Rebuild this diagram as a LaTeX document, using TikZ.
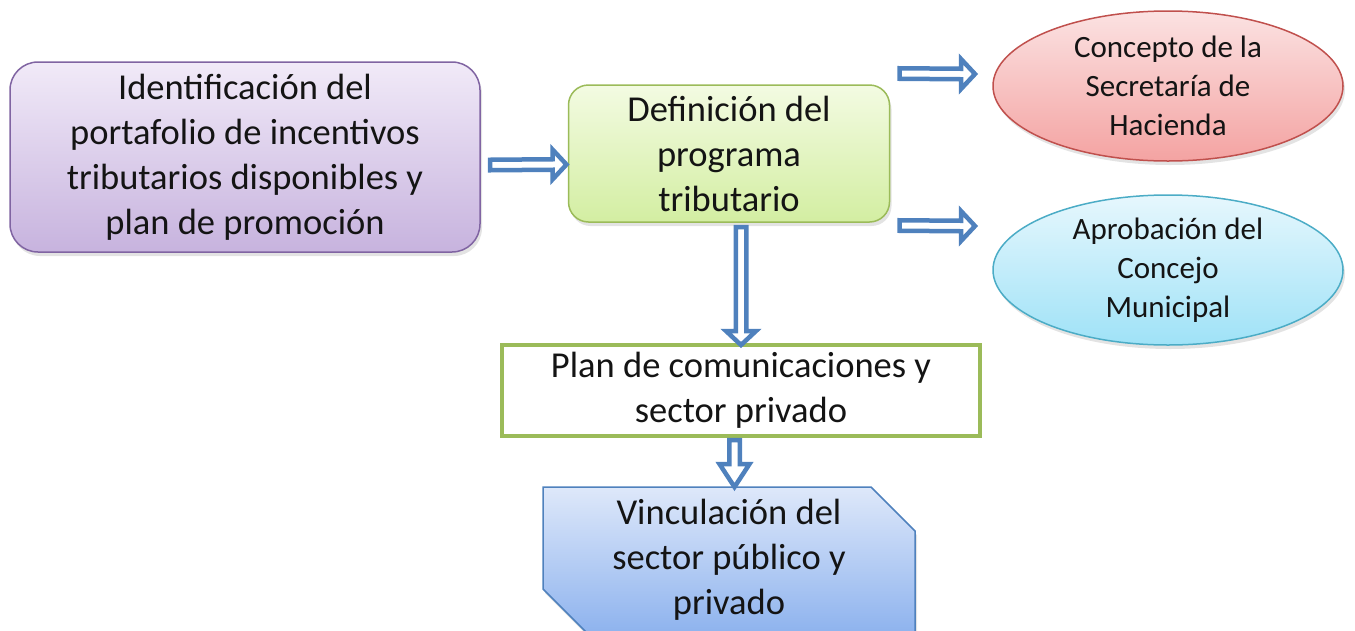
\documentclass[tikz,border=0pt]{standalone}
\usepackage{fontspec}
\setmainfont{Carlito}
\usepackage{xcolor}
\usetikzlibrary{calc, positioning, shapes.geometric, shapes.misc, shadows}
\definecolor{purpleline}{HTML}{8064A2}
\definecolor{purpletop}{HTML}{F1EAF8}
\definecolor{purplebot}{HTML}{C7B3DE}
\definecolor{greenline}{HTML}{9BBB59}
\definecolor{greentop}{HTML}{F3FBE2}
\definecolor{greenbot}{HTML}{D3EEA2}
\definecolor{redline}{HTML}{C0504D}
\definecolor{redtop}{HTML}{FBE2E2}
\definecolor{redbot}{HTML}{F4A3A2}
\definecolor{cyanline}{HTML}{4BACC6}
\definecolor{cyantop}{HTML}{E6F7FD}
\definecolor{cyanbot}{HTML}{9FE2F7}
\definecolor{blueline}{HTML}{4F81BD}
\definecolor{bluetop}{HTML}{DEE8FA}
\definecolor{bluebot}{HTML}{8EB3EE}
\begin{document}
\begin{tikzpicture}[
    x=1pt, y=-1pt,
    bigtxt/.style={font=\fontsize{36.5}{45}\selectfont, align=center, text=black!92, inner sep=0pt, outer sep=0pt},
    smalltxt/.style={font=\fontsize{31}{39}\selectfont, align=center, text=black!92, inner xsep=0pt, inner ysep=-8pt, outer sep=0pt},
    shad/.style={drop shadow={shadow xshift=2pt, shadow yshift=-4pt, opacity=0.22}},
    idbox/.style={bigtxt, shad, rectangle, rounded corners=28pt, draw=purpleline, line width=1.5pt, top color=purpletop, bottom color=purplebot},
    defbox/.style={bigtxt, shad, rectangle, rounded corners=20pt, draw=greenline, line width=1.5pt, top color=greentop, bottom color=greenbot},
    hacell/.style={smalltxt, shad, ellipse, draw=redline, line width=1.5pt, top color=redtop, bottom color=redbot, minimum width=350, minimum height=150},
    conell/.style={smalltxt, shad, ellipse, draw=cyanline, line width=1.5pt, top color=cyantop, bottom color=cyanbot, minimum width=350, minimum height=150},
    planbox/.style={bigtxt, rectangle, draw=greenline, line width=4.5pt, fill=white},
    vincbox/.style={bigtxt, shad, inner ysep=-14pt, chamfered rectangle, chamfered rectangle corners={north east, south west}, chamfered rectangle xsep=22pt, chamfered rectangle ysep=22pt, draw=blueline, line width=1.5pt, top color=bluetop, bottom color=bluebot},
    blk/.style={draw=blueline, fill=white, line width=4.5pt, line join=miter},
    rblk/.style={blk, to path={let \p1=(\tikztostart), \p2=(\tikztotarget) in
      (\x1,\y1+5.25pt) -- (\x2-14pt,\y2+5.25pt) -- (\x2-14pt,\y2+15pt) -- (\x2,\y2)
      -- (\x2-14pt,\y2-15pt) -- (\x2-14pt,\y2-5.25pt) -- (\x1,\y1-5.25pt) -- cycle}},
    dblk/.style={blk, to path={let \p1=(\tikztostart), \p2=(\tikztotarget) in
      (\x1-5.25pt,\y1) -- (\x2-5.25pt,\y2+#1pt) -- (\x2-15pt,\y2+#1pt) -- (\x2,\y2)
      -- (\x2+15pt,\y2+#1pt) -- (\x2+5.25pt,\y2+#1pt) -- (\x1+5.25pt,\y1) -- cycle}},
    dblk/.default=14,
  ]
  \useasboundingbox (0,0) rectangle (1355,630);

  \node[idbox, minimum width=470, minimum height=190] (idp) at (245,157)
    {Identificación del\\portafolio de incentivos\\tributarios disponibles y\\plan de promoción};
  \node[defbox, minimum width=321, minimum height=137] (defin) at (729,153.5)
    {Definición del\\programa\\tributario};
  \node[hacell] (hac) at (1168,86) {Concepto de la\\Secretaría de\\Hacienda};
  \node[conell, below=34pt of hac] (conc) {Aprobación del\\Concejo\\Municipal};
  \node[planbox, minimum width=478, minimum height=91] (plan) at (741,390.5)
    {Plan de comunicaciones y\\sector privado};
  \node[vincbox, minimum width=372, minimum height=146] (vinc) at (729,560)
    {Vinculación del\\sector público y\\privado};

  % block arrows
  \draw[rblk] ([shift={(10,8)}]idp.east) to ([shift={(-2,11)}]defin.west);
  \draw[rblk] ([shift={(10,-80)}]defin.east) to ([shift={(-18,-12)}]hac.west);
  \draw[rblk] ([shift={(10,72)}]defin.east) to ([shift={(-18,-44)}]conc.west);
  \draw[dblk] ([yshift=-5]plan.north |- defin.south) to (plan.north);
  \draw[dblk=23] ([shift={(-6.5,4)}]plan.south) to ([xshift=5.5]vinc.north);
\end{tikzpicture}
\end{document}
